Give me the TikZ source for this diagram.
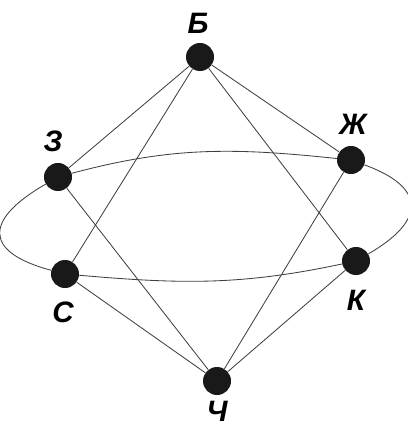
\documentclass[tikz,border=0pt]{standalone}
\usepackage{fontspec}
\setmainfont{Liberation Sans}
\usepackage{tikz}
\usetikzlibrary{positioning,calc}

\begin{document}
\begin{tikzpicture}[
  x=0.025cm, y=-0.025cm,
  vertex/.style={circle, fill=black!90, inner sep=0pt, minimum size=0.7cm},
  vname/.style={font=\fontsize{21}{24}\selectfont\bfseries\itshape, inner sep=1pt},
  edge/.style={line width=0.6pt, black!75},
  loopline/.style={line width=0.6pt, black!75}
]
\useasboundingbox (0,0) rectangle (407,426);

% vertices
\node[vertex] (B) at (200,57) {};
\node[vertex] (Zh) at (351,160) {};
\node[vertex] (Z) at (58,177) {};
\node[vertex] (S) at (65,274) {};
\node[vertex] (K) at (356,261) {};
\node[vertex] (Ch) at (217,381) {};

% the oval through the four side vertices
\draw[loopline] (Z) to[out=15,in=174] (Zh)
  to[out=-20,in=30,looseness=1.9] (K)
  to[out=192,in=-5] (S)
  to[out=165,in=210,looseness=2.1] (Z);

% straight edges
\foreach \t in {Z,S,Zh,K} {
  \draw[edge] (B) -- (\t);
  \draw[edge] (Ch) -- (\t);
}

% names
\node[vname] (lB) at (198,23) {Б};
\node[vname] (lZh) at (353,124) {Ж};
\node[vname] (lZ) at (53,141) {З};
\node[vname] (lS) at (63,312) {С};
\node[vname] (lK) at (356,300) {К};
\node[vname] (lCh) at (217,411) {Ч};
\end{tikzpicture}
\end{document}
